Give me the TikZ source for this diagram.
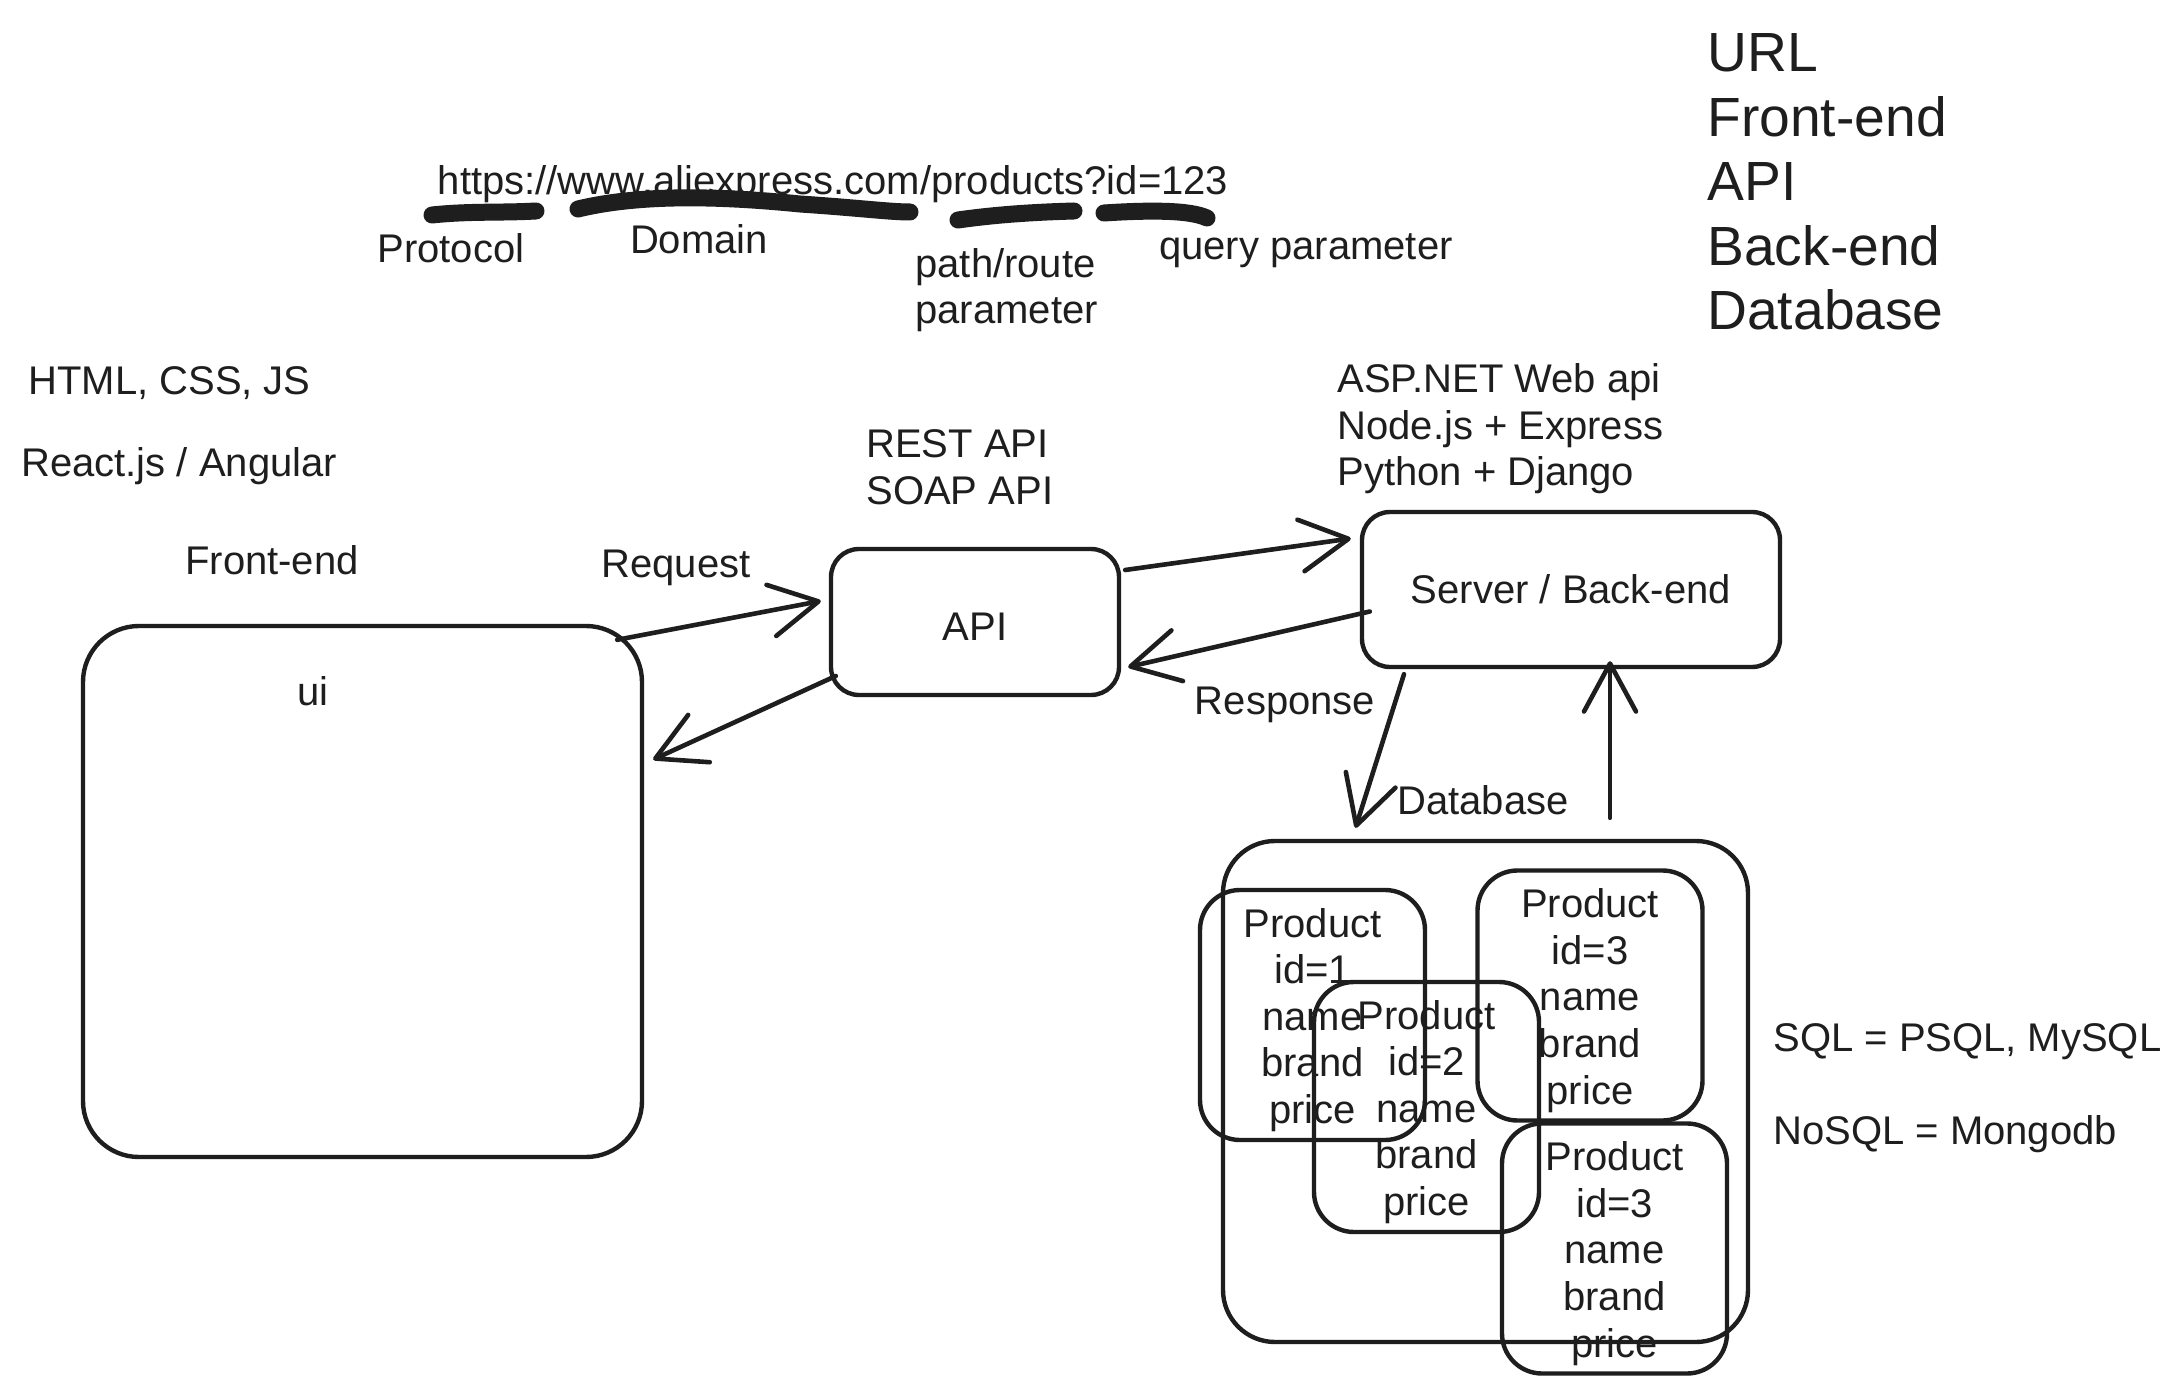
\documentclass[tikz,border=0pt]{standalone}
\usepackage{fontspec}
\setmainfont{Liberation Sans}
\usetikzlibrary{arrows.meta,calc}
\definecolor{ink}{HTML}{1E1E1E}
\newcommand{\topstrut}{\rule{0pt}{19.5pt}}
\begin{document}
\begin{tikzpicture}[x=0.5pt,y=-0.5pt,
  txt/.style={inner sep=0pt, font=\fontsize{20}{23.3}\selectfont, text=ink},
  big/.style={inner sep=0pt, font=\fontsize{27.6}{32.2}\selectfont, text=ink, align=left},
  box/.style={draw=ink, line width=2.2pt, rounded corners=14pt, inner sep=0pt},
  prod/.style={box, rounded corners=20pt, minimum width=112.5pt, minimum height=125pt, align=center, font=\fontsize{20}{23.3}\selectfont, text=ink},
  arr/.style={draw=ink, line width=2.3pt, line cap=round, -{Straight Barb[length=24pt,width=26pt,round]}},
  marker/.style={draw=ink, line width=8.5pt, line cap=round}
]
\fill[white] (0,0) rectangle (2180,1395);
\useasboundingbox (0,0) rectangle (2180,1395);

% URL and markers
\node[txt] (url) at (833,184) {https://www.aliexpress.com/products?id=123};
\draw[marker] (432,215) .. controls (470,211) and (500,213) .. (536,211);
\draw[marker] (578,209) .. controls (640,194) and (720,196) .. (800,204) .. controls (860,208) and (890,212) .. (910,212);
\draw[marker] (958,220) .. controls (1000,214) and (1040,212) .. (1074,211);
\draw[marker] (1104,213) .. controls (1150,210) and (1190,210) .. (1207,218);
\node[txt] (proto) at (451,248) {Protocol};
\node[txt] (domain) at (699,239) {Domain};
\node[txt, anchor=west, align=left] (pathl) at (915,290) {path/route\\parameter};
\node[txt] (query) at (1306,251) {query parameter};

% top-right list
\node[big, anchor=west] (list) at (1707,182) {URL\\Front-end\\API\\Back-end\\Database};

% left texts
\node[txt, anchor=west] (tech1) at (28,383) {HTML, CSS, JS};
\node[txt, anchor=west] (tech2) at (21,466) {React.js / Angular};
\node[txt] (fe) at (272,560) {Front-end};
\node[txt] (req) at (676,568) {Request};
\node[txt, anchor=west, align=left] (apis) at (866,467) {REST API\\SOAP API};
\node[txt, anchor=west, align=left] (stack) at (1337,429) {ASP.NET Web api\\Node.js + Express\\Python + Django};
\node[txt] (resp) at (1285,705) {Response};
\node[txt] (dbl) at (1483,800) {Database};
\node[txt, anchor=west] (sql) at (1773,1042) {SQL = PSQL, MySQL};
\node[txt, anchor=west] (nosql) at (1773,1134) {NoSQL = Mongodb};

% boxes
\node[box, rounded corners=28pt, minimum width=279.5pt, minimum height=265.5pt] (ui) at (362.5,891.5) {};
\node[txt] (uil) at (313,691) {ui};
\node[box, txt, minimum width=144pt, minimum height=73pt] (api) at (975,622) {\rule{0pt}{19pt}API};
\node[box, txt, minimum width=209pt, minimum height=77.5pt] (srv) at (1571,589.5) {Server / Back-end};
\node[box, rounded corners=26pt, minimum width=262.5pt, minimum height=250.5pt] (db) at (1485.5,1091.5) {};
\node[prod] (p1) at (1312.5,1015) {\topstrut Product\\id=1\\name\\brand\\price};
\node[prod] (p2) at (1426.5,1107) {\topstrut Product\\id=2\\name\\brand\\price};
\node[prod] (p3) at (1590,995.5) {\topstrut Product\\id=3\\name\\brand\\price};
\node[prod] (p4) at (1614.5,1248.5) {\topstrut Product\\id=3\\name\\brand\\price};

% connectors
\draw[arr] ($(ui.north east)+(-27,16)$) -- ($(api.west)+(-8,-21)$);
\draw[arr] ($(api.west)+(7,54)$) -- ($(ui.east)+(9,-132)$);
\draw[arr] ($(api.east)+(4,-52)$) -- ($(srv.west)+(-9,-51)$);
\draw[arr] ($(srv.west)+(10,22)$) -- ($(api.east)+(7,45)$);
\draw[arr] ($(srv.south)+(-167,5)$) -- ($(db.north)+(-130,-11)$);
\draw[arr] ($(db.north)+(124.5,-21)$) -- ($(srv.south)+(39,-8)$);
\end{tikzpicture}
\end{document}
